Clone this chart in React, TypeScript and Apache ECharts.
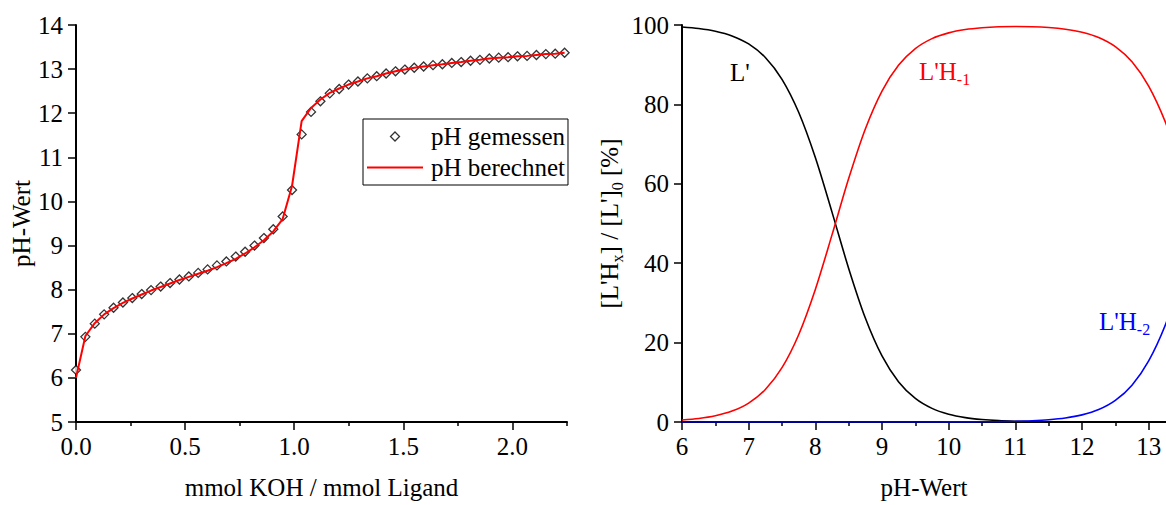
import React, { useEffect, useRef } from 'react';
import * as echarts from 'echarts';

// Left panel: titration curve
const titrantRatio = [0.000, 0.043, 0.086, 0.129, 0.172, 0.215, 0.258, 0.301, 0.344, 0.388, 0.431, 0.474, 0.517, 0.560, 0.603, 0.646, 0.689, 0.732, 0.775, 0.818, 0.861, 0.904, 0.947, 0.990, 1.034, 1.077, 1.120, 1.163, 1.206, 1.249, 1.292, 1.335, 1.378, 1.421, 1.464, 1.507, 1.550, 1.593, 1.636, 1.679, 1.722, 1.765, 1.808, 1.851, 1.894, 1.937, 1.980, 2.023, 2.067, 2.110, 2.153, 2.196, 2.239];
const phMeasured = [6.18, 6.93, 7.23, 7.44, 7.59, 7.71, 7.81, 7.90, 7.99, 8.07, 8.15, 8.23, 8.30, 8.38, 8.46, 8.55, 8.64, 8.75, 8.86, 9.00, 9.17, 9.37, 9.66, 10.26, 11.52, 12.03, 12.27, 12.45, 12.55, 12.65, 12.72, 12.79, 12.84, 12.90, 12.95, 12.99, 13.03, 13.06, 13.09, 13.11, 13.14, 13.16, 13.19, 13.21, 13.24, 13.26, 13.27, 13.29, 13.30, 13.32, 13.34, 13.35, 13.37];
const phCalculated = [6.00, 6.95, 7.24, 7.44, 7.58, 7.70, 7.80, 7.89, 7.98, 8.06, 8.14, 8.22, 8.29, 8.36, 8.43, 8.51, 8.60, 8.70, 8.82, 8.96, 9.12, 9.32, 9.60, 10.35, 11.82, 12.12, 12.31, 12.46, 12.56, 12.65, 12.72, 12.79, 12.84, 12.90, 12.95, 12.99, 13.03, 13.06, 13.09, 13.11, 13.14, 13.16, 13.19, 13.21, 13.24, 13.26, 13.27, 13.29, 13.30, 13.32, 13.34, 13.35, 13.37];
const leftXMajor = [0, 0.5, 1.0, 1.5, 2.0];
const leftXMinor = [0.25, 0.75, 1.25, 1.75, 2.25];

// Right panel: species distribution
const phGrid = [6, 6.25, 6.5, 6.75, 7, 7.25, 7.5, 7.75, 8, 8.25, 8.5, 8.75, 9, 9.25, 9.5, 9.75, 10, 10.25, 10.5, 10.75, 11, 11.25, 11.5, 11.75, 12, 12.25, 12.5, 12.75, 13, 13.25, 13.5];
const fracL = [99.50, 99.12, 98.44, 97.26, 95.23, 91.82, 86.32, 78.01, 66.61, 52.87, 38.69, 26.19, 16.63, 10.09, 5.94, 3.43, 1.96, 1.11, 0.63, 0.35, 0.20, 0.11, 0.06, 0.04, 0.02, 0.01, 0.01, 0, 0, 0, 0];
const fracLH1 = [0.50, 0.88, 1.56, 2.74, 4.77, 8.18, 13.68, 21.99, 33.39, 47.13, 61.31, 73.81, 83.37, 89.91, 94.06, 96.57, 98.02, 98.86, 99.31, 99.55, 99.62, 99.57, 99.37, 98.95, 98.19, 96.86, 94.55, 90.72, 84.60, 75.55, 63.50];
const fracLH2 = [0, 0, 0, 0, 0, 0, 0, 0, 0, 0, 0, 0, 0, 0, 0, 0, 0.02, 0.03, 0.06, 0.10, 0.18, 0.32, 0.57, 1.01, 1.79, 3.13, 5.44, 9.28, 15.40, 24.45, 36.50];
const rightXMajor = [6, 7, 8, 9, 10, 11, 12, 13];
const rightXMinor = [6.5, 7.5, 8.5, 9.5, 10.5, 11.5, 12.5];

const FONT = 'Liberation Serif';
const FS = 25;

function zip(a: number[], b: number[]) {
  return a.map((v, i) => [v, b[i]]);
}

const subRich = (color: string) => ({
  m: { fontSize: FS, fontFamily: FONT, color, fill: color, lineHeight: 25, verticalAlign: 'top' },
  s: { fontSize: 16, fontFamily: FONT, color, fill: color, padding: [12, 0, 0, 0], verticalAlign: 'bottom' },
});

export default function App() {
  const ref = useRef<HTMLDivElement>(null);
  useEffect(() => {
    const chart = echarts.init(ref.current!, null, { renderer: 'svg' });
    const lineStyle = { color: '#000', width: 2 };
    const labelStyle = { color: '#000', fontSize: FS, fontFamily: FONT };
    const nameStyle = { color: '#000', fontSize: FS, fontFamily: FONT };
    const tickStyle = { color: '#000', width: 1.5 };
    const minorAxis = (gridIndex: number, min: number, max: number, vals: number[]) => ({
      type: 'value', gridIndex, min, max, position: 'bottom',
      axisLine: { show: false },
      axisLabel: { show: false },
      splitLine: { show: false },
      axisTick: { show: true, inside: false, length: 4, lineStyle: tickStyle, customValues: vals },
    });
    chart.setOption({
      animation: false,
      backgroundColor: '#fff',
      textStyle: { fontFamily: FONT },
      grid: [
        { left: 76, top: 25, width: 491, height: 399 },
        { left: 682, top: 25, width: 484, height: 399 },
      ],
      xAxis: [
        {
          type: 'value', gridIndex: 0, min: 0, max: 2.25, interval: 0.5, position: 'bottom',
          axisLine: { show: true, onZero: false, lineStyle },
          axisTick: { show: true, inside: false, length: 8, lineStyle: tickStyle, customValues: leftXMajor },
          axisLabel: { ...labelStyle, margin: 12, customValues: leftXMajor, formatter: (v: number) => v.toFixed(1) },
          splitLine: { show: false },
          name: 'mmol KOH / mmol Ligand', nameLocation: 'middle', nameGap: 53, nameTextStyle: nameStyle,
        },
        minorAxis(0, 0, 2.25, leftXMinor),
        {
          type: 'value', gridIndex: 1, min: 6, max: 13.26, interval: 1, position: 'bottom',
          axisLine: { show: true, onZero: false, lineStyle },
          axisTick: { show: true, inside: false, length: 8, lineStyle: tickStyle, customValues: rightXMajor },
          axisLabel: { ...labelStyle, margin: 12, customValues: rightXMajor, formatter: (v: number) => String(v) },
          splitLine: { show: false },
          name: 'pH-Wert', nameLocation: 'middle', nameGap: 53, nameTextStyle: nameStyle,
        },
        minorAxis(1, 6, 13.26, rightXMinor),
      ],
      yAxis: [
        {
          type: 'value', gridIndex: 0, min: 5, max: 14, interval: 1,
          axisLine: { show: true, onZero: false, lineStyle },
          axisTick: { show: true, inside: false, length: 8, lineStyle: tickStyle },
          axisLabel: { ...labelStyle, margin: 13 },
          splitLine: { show: false },
          name: 'pH-Wert', nameLocation: 'middle', nameGap: 38, nameTextStyle: nameStyle,
        },
        {
          type: 'value', gridIndex: 1, min: 0, max: 100, interval: 20,
          axisLine: { show: true, onZero: false, lineStyle },
          axisTick: { show: true, inside: false, length: 8, lineStyle: tickStyle },
          axisLabel: { ...labelStyle, margin: 13 },
          splitLine: { show: false },
          name: "{m|[L'H}{s|x}{m|] / [L']}{s|0}{m| [%]}",
          nameLocation: 'middle', nameGap: 57,
          nameTextStyle: { ...nameStyle, rich: subRich('#000') },
        },
      ],
      legend: {
        data: [
          {
            name: 'pH gemessen', icon: 'path://M5,0 L10,5 L5,10 L0,5 Z',
            itemStyle: { color: '#fff', borderColor: '#000', borderWidth: 1.3 },
          },
          {
            name: 'pH berechnet', icon: 'path://M0,0 L56,0 L56,2 L0,2 Z',
            itemStyle: { color: '#f00', borderWidth: 0 },
          },
        ],
        orient: 'vertical', left: 363, top: 119,
        itemWidth: 56, itemHeight: 9, itemGap: 6,
        symbolKeepAspect: true,
        padding: [5, 3, 5, 4],
        borderColor: '#000', borderWidth: 1, backgroundColor: '#fff', borderRadius: 0,
        textStyle: { color: '#000', fontSize: FS, fontFamily: FONT, padding: [0, 0, 0, 3] },
        selectedMode: false,
      },
      graphic: [
        {
          type: 'text', x: 730, y: 72,
          style: { text: "L'", fill: '#000', font: `${FS}px ${FONT}`, verticalAlign: 'middle' },
        },
        {
          type: 'text', x: 919, y: 73,
          style: { text: "{m|L'H}{s|-1}", fill: '#f00', verticalAlign: 'middle', rich: subRich('#f00') },
        },
        {
          type: 'text', x: 1099, y: 323,
          style: { text: "{m|L'H}{s|-2}", fill: '#00f', verticalAlign: 'middle', rich: subRich('#00f') },
        },
      ],
      series: [
        {
          name: 'pH gemessen', type: 'scatter', xAxisIndex: 0, yAxisIndex: 0,
          data: zip(titrantRatio, phMeasured),
          symbol: 'diamond', symbolSize: 9,
          itemStyle: { color: '#fff', borderColor: '#000', borderWidth: 1.3 },
        },
        {
          name: 'pH berechnet', type: 'line', xAxisIndex: 0, yAxisIndex: 0,
          data: zip(titrantRatio, phCalculated),
          showSymbol: false, symbol: 'none', color: '#f00',
          lineStyle: { color: '#f00', width: 2 },
        },
        {
          name: "L'", type: 'line', xAxisIndex: 2, yAxisIndex: 1,
          data: zip(phGrid, fracL), showSymbol: false, symbol: 'none', smooth: 0.3,
          lineStyle: { color: '#000', width: 1.6 }, color: '#000',
        },
        {
          name: "L'H-1", type: 'line', xAxisIndex: 2, yAxisIndex: 1,
          data: zip(phGrid, fracLH1), showSymbol: false, symbol: 'none', smooth: 0.3,
          lineStyle: { color: '#f00', width: 1.6 }, color: '#f00',
        },
        {
          name: "L'H-2", type: 'line', xAxisIndex: 2, yAxisIndex: 1,
          data: zip(phGrid, fracLH2), showSymbol: false, symbol: 'none', smooth: 0.3,
          lineStyle: { color: '#00f', width: 1.6 }, color: '#00f',
        },
      ],
    });
    return () => chart.dispose();
  }, []);
  return (
    <div
      ref={ref}
      style={{ position: 'fixed', left: 0, top: 0, width: 1166, height: 505, background: '#fff' }}
    />
  );
}
